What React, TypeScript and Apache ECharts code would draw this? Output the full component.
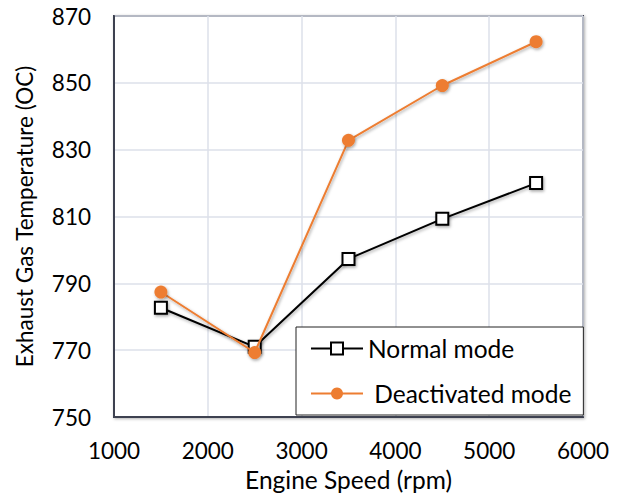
import React, { useEffect, useRef } from "react";
import * as echarts from "echarts";

const speeds = [1500, 2500, 3500, 4500, 5500];
const normalMode = [782.7, 771, 797.3, 809.3, 820];
const deactivatedMode = [787.4, 769.3, 832.8, 849.2, 862.3];
const xTicks = { min: 1000, max: 6000, interval: 1000 };
const yTicks = { min: 750, max: 870, interval: 20 };

const FONT = "Lato";

export default function App() {
  const ref = useRef<HTMLDivElement>(null);
  useEffect(() => {
    if (!ref.current) return;
    const chart = echarts.init(ref.current, undefined, { renderer: "svg" });
    const shadow = {
      shadowColor: "rgba(0,0,0,0.35)",
      shadowBlur: 3,
      shadowOffsetX: 1,
      shadowOffsetY: 1.5,
    };
    chart.setOption({
      animation: false,
      backgroundColor: "#ffffff",
      textStyle: { fontFamily: FONT },
      grid: {
        left: 114,
        right: 42,
        top: 16,
        bottom: 78,
        show: true,
        backgroundColor: "#ffffff",
        borderColor: "#3d4150",
        borderWidth: 2,
        shadowColor: "rgba(0,0,0,0.3)",
        shadowBlur: 3,
        shadowOffsetX: 1,
        shadowOffsetY: 1,
      },
      xAxis: {
        type: "value",
        min: xTicks.min,
        max: xTicks.max,
        interval: xTicks.interval,
        name: "Engine Speed (rpm)",
        nameLocation: "middle",
        nameGap: 50,
        nameTextStyle: { fontSize: 24.5, color: "#000", fontFamily: FONT },
        axisLine: { show: true, lineStyle: { color: "#3d4150", width: 2 } },
        axisTick: { show: false },
        axisLabel: {
          fontSize: 22.5,
          color: "#000",
          margin: 22,
          fontFamily: FONT,
          formatter: (v: number) => String(v),
        },
        splitLine: { show: true, lineStyle: { color: "#dce1ea", width: 1.5 } },
      },
      yAxis: {
        type: "value",
        min: yTicks.min,
        max: yTicks.max,
        interval: yTicks.interval,
        name: "Exhaust Gas Temperature (OC)",
        nameLocation: "middle",
        nameGap: 78,
        nameTextStyle: { fontSize: 22.5, color: "#000", fontFamily: FONT },
        axisLine: { show: true, lineStyle: { color: "#3d4150", width: 2 } },
        axisTick: { show: false },
        axisLabel: { fontSize: 22.5, color: "#000", margin: 23, fontFamily: FONT },
        splitLine: { show: true, lineStyle: { color: "#dce1ea", width: 1.5 } },
      },
      legend: {
        orient: "vertical",
        left: 296,
        top: 327,
        padding: [9, 12, 9, 14],
        itemWidth: 52,
        itemHeight: 15,
        itemGap: 20,
        backgroundColor: "#ffffff",
        borderColor: "#222",
        borderWidth: 1,
        textStyle: { fontSize: 24.5, color: "#000", lineHeight: 24, fontFamily: FONT },
        data: ["Normal mode", "Deactivated mode"],
        formatter: (name: string) => (name === "Deactivated mode" ? " " + name : name),
      },
      series: [
        {
          name: "Normal mode",
          type: "line",
          data: speeds.map((s, i) => [s, normalMode[i]]),
          symbol: "rect",
          symbolSize: 12,
          itemStyle: { color: "#ffffff", borderColor: "#000", borderWidth: 2, ...shadow },
          lineStyle: { color: "#000", width: 2, ...shadow },
          z: 2,
        },
        {
          name: "Deactivated mode",
          type: "line",
          data: speeds.map((s, i) => [s, deactivatedMode[i]]),
          symbol: "circle",
          symbolSize: 13,
          itemStyle: { color: "#ED7D31", borderColor: "#ED7D31", borderWidth: 0, ...shadow },
          lineStyle: { color: "#ED7D31", width: 2, ...shadow },
          z: 3,
        },
      ],
    });
    return () => chart.dispose();
  }, []);
  return <div ref={ref} style={{ width: 625, height: 497, position: "absolute", left: 0, top: 0 }} />;
}
